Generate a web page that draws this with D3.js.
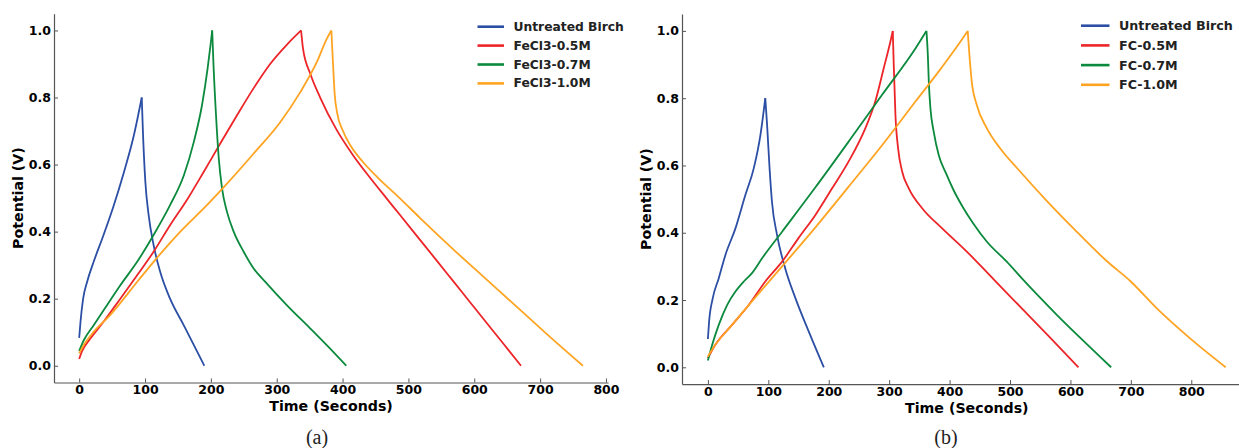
<!DOCTYPE html>
<html>
<head>
<meta charset="utf-8">
<script src="https://cdn.jsdelivr.net/npm/d3@7"></script>
<style>
  body { margin: 0; background: #fff; }
  svg { display: block; }
</style>
</head>
<body>
<svg id="chart" width="1239" height="448"></svg>
<script>
// tick labels
const xTicks = [0, 100, 200, 300, 400, 500, 600, 700, 800]
const yTicks = [0, 0.2, 0.4, 0.6, 0.8, 1.0]

// legend entries
const namesA = ['Untreated Birch', 'FeCl3-0.5M', 'FeCl3-0.7M', 'FeCl3-1.0M']
const namesB = ['Untreated Birch', 'FC-0.5M', 'FC-0.7M', 'FC-1.0M']
const colors = ['#2c4fa5', '#ec2529', '#0b8a3d', '#ffa422']

// panel (a): [time (s), potential (V)]
const birchA = [[0, 0.083], [2, 0.131], [6, 0.2], [12, 0.25], [22, 0.31], [37, 0.39], [52, 0.475], [67.6, 0.575], [82.8, 0.685], [95, 0.8],
  [97, 0.687], [100.5, 0.548], [105.5, 0.449], [113, 0.36], [123, 0.28], [138, 0.2], [158.7, 0.121], [174, 0.062], [190, 0]]
const fecl05 = [[0, 0.02], [4, 0.042], [17, 0.081], [37, 0.131], [62.5, 0.2], [88, 0.27], [113, 0.34], [138, 0.419], [163.8, 0.495], [189, 0.578],
  [214, 0.662], [239.7, 0.747], [265, 0.828], [290, 0.9], [315.6, 0.958], [337, 1.0],
  [340, 0.945], [351, 0.871], [366, 0.8], [390.6, 0.705], [415.9, 0.628], [441.2, 0.562], [466.5, 0.5], [486.7, 0.451], [517, 0.377],
  [542.4, 0.315], [567.7, 0.253], [593, 0.191], [618.3, 0.129], [643.7, 0.067], [671, 0]]
const fecl07 = [[0, 0.044], [7, 0.076], [22, 0.121], [42, 0.18], [62.5, 0.24], [88, 0.31], [113, 0.39], [138, 0.479], [159, 0.568], [174, 0.667],
  [186.5, 0.777], [195, 0.886], [200, 0.965], [202, 1.0],
  [204, 0.896], [207.8, 0.747], [212, 0.618], [217, 0.528], [224.5, 0.459], [234.6, 0.4], [249.8, 0.34], [265, 0.29], [282.7, 0.25],
  [315.6, 0.18], [351, 0.111], [386.5, 0.04], [405.7, 0]]
const fecl10 = [[0, 0.037], [7, 0.062], [22, 0.101], [47, 0.151], [90, 0.255], [113, 0.31], [153.6, 0.4], [194, 0.479], [224.5, 0.543],
  [265, 0.633], [305.6, 0.727], [335.8, 0.816], [361, 0.906], [376, 0.975], [383, 1.0],
  [385.5, 0.9], [388, 0.81], [392, 0.752], [400, 0.703], [412, 0.657], [430, 0.61], [455, 0.558], [486.7, 0.5], [517, 0.442],
  [567.7, 0.348], [608, 0.276], [658.8, 0.186], [709.4, 0.096], [765, 0]]

// panel (b): [time (s), potential (V)]
const birchB = [[0, 0.084], [2, 0.136], [8, 0.205], [18, 0.265], [29, 0.334], [45.6, 0.413], [62, 0.512], [76, 0.592], [87, 0.691], [95, 0.8],
  [98, 0.72], [101.8, 0.6], [106, 0.493], [114.5, 0.393], [128, 0.294], [145, 0.205], [167, 0.106], [191.8, 0]]
const fc05 = [[0, 0.027], [12, 0.066], [40, 0.126], [67.6, 0.185], [95, 0.255], [122.8, 0.314], [150, 0.384], [178, 0.453], [205.6, 0.532],
  [233, 0.612], [260.7, 0.711], [277, 0.79], [291, 0.889], [302, 0.968], [306, 1.0],
  [307.6, 0.899], [310.4, 0.75], [314.8, 0.651], [321.5, 0.582], [332.5, 0.532], [354.6, 0.473], [387.7, 0.413], [428.5, 0.344],
  [472.6, 0.262], [522.3, 0.17], [566.4, 0.088], [613.3, 0]]
const fc07 = [[0, 0.02], [7, 0.066], [18, 0.126], [31.8, 0.185], [45.6, 0.225], [59.4, 0.255], [73, 0.28], [89.7, 0.324], [122.8, 0.403],
  [178, 0.535], [233, 0.671], [288.3, 0.81], [343.5, 0.948], [361.7, 1.0],
  [364, 0.929], [365.6, 0.849], [368.3, 0.77], [373.8, 0.7], [382, 0.631], [394, 0.577], [406.5, 0.527], [423, 0.473], [439.5, 0.427],
  [461.5, 0.374], [494.6, 0.314], [522, 0.26], [549.8, 0.207], [577.4, 0.156], [616, 0.088], [667.3, 0]]
const fc10 = [[0, 0.032], [12, 0.066], [40, 0.126], [67.6, 0.185], [122.8, 0.3], [178, 0.416], [233, 0.537], [288.3, 0.66], [343.5, 0.79],
  [384.3, 0.885], [420.7, 0.975], [430, 1.0],
  [432.8, 0.929], [436.7, 0.849], [445, 0.78], [461.5, 0.711], [483.6, 0.651], [516.7, 0.582], [560.8, 0.495], [605, 0.413],
  [660, 0.316], [699.9, 0.255], [743, 0.175], [798, 0.086], [857, 0]]

const svg = d3.select('#chart')
const font = 'DejaVu Sans, sans-serif'

/**
 * Draws one GCD panel
 *
 * @param {*} p the panel settings
 */
function drawPanel (p) {
  const x = d3.scaleLinear().domain(p.xDomain).range([p.left, p.right])
  const y = d3.scaleLinear().domain([-0.05, 1.05]).range([p.bottom, p.top])
  const g = svg.append('g')

  const xAxis = g.append('g')
    .attr('transform', `translate(0, ${p.bottom})`)
    .call(d3.axisBottom(x).tickValues(xTicks).tickFormat(d3.format('d'))
      .tickSizeInner(-4).tickSizeOuter(0).tickPadding(3))
  const yAxis = g.append('g')
    .attr('transform', `translate(${p.left}, 0)`)
    .call(d3.axisLeft(y).tickValues(yTicks).tickFormat(d3.format('.1f'))
      .tickSizeInner(-4).tickSizeOuter(0).tickPadding(3))

  for (const ax of [xAxis, yAxis]) {
    ax.attr('font-family', font).attr('font-size', 12.5).attr('font-weight', 'bold')
    ax.select('.domain').attr('stroke', '#555').attr('stroke-width', 1.2)
    ax.selectAll('.tick line').attr('stroke', '#555')
    ax.selectAll('.tick text').attr('fill', '#000')
  }

  const line = d3.line()
    .x(d => x(d[0]))
    .y(d => y(d[1]))
    .curve(d3.curveMonotoneX)

  // charge and discharge are drawn apart so the peak stays sharp
  p.series.forEach((s, i) => {
    const k = d3.maxIndex(s, d => d[1])
    for (const part of [s.slice(0, k + 1), s.slice(k)]) {
      g.append('path')
        .datum(part)
        .attr('fill', 'none')
        .attr('stroke', colors[i])
        .attr('stroke-width', 1.8)
        .attr('stroke-linejoin', 'round')
        .attr('d', line)
    }
  })

  // legend, no frame
  const leg = g.append('g')
  p.names.forEach((name, i) => {
    const ly = p.legY + i * p.legStep
    leg.append('line')
      .attr('x1', p.legX).attr('x2', p.legX + p.legLen)
      .attr('y1', ly).attr('y2', ly)
      .attr('stroke', colors[i])
      .attr('stroke-width', 2.6)
    leg.append('text')
      .attr('x', p.legX + p.legLen + 9.5)
      .attr('y', ly)
      .attr('dominant-baseline', 'central')
      .attr('font-family', font)
      .attr('font-weight', 'bold')
      .attr('font-size', p.legFont)
      .attr('fill', '#222')
      .text(name)
  })

  g.append('text')
    .attr('x', (p.left + p.right) / 2)
    .attr('y', p.xLabelY)
    .attr('text-anchor', 'middle')
    .attr('font-family', font)
    .attr('font-weight', 'bold')
    .attr('font-size', 14.2)
    .text('Time (Seconds)')

  g.append('text')
    .attr('transform', `translate(${p.yLabelX}, ${(p.top + p.bottom) / 2}) rotate(-90)`)
    .attr('text-anchor', 'middle')
    .attr('font-family', font)
    .attr('font-weight', 'bold')
    .attr('font-size', 14.2)
    .text('Potential (V)')

  g.append('text')
    .attr('x', p.captionX)
    .attr('y', 444)
    .attr('text-anchor', 'middle')
    .attr('font-family', 'Liberation Serif, serif')
    .attr('font-size', 20)
    .attr('fill', '#222')
    .text(p.caption)
}

drawPanel({
  series: [birchA, fecl05, fecl07, fecl10],
  names: namesA,
  xDomain: [-38.25, 803.25],
  left: 54,
  right: 608.1,
  top: 13.7,
  bottom: 382.5,
  legX: 477.5,
  legLen: 26.5,
  legY: 26.7,
  legStep: 18.9,
  legFont: 12.3,
  xLabelY: 411,
  yLabelX: 23,
  captionX: 317,
  caption: '(a)'
})

drawPanel({
  series: [birchB, fc05, fc07, fc10],
  names: namesB,
  xDomain: [-42.85, 899.85],
  left: 682,
  right: 1251.6,
  top: 14.1,
  bottom: 384.1,
  legX: 1081,
  legLen: 28.5,
  legY: 25.7,
  legStep: 19.7,
  legFont: 12.7,
  xLabelY: 412.5,
  yLabelX: 651,
  captionX: 946,
  caption: '(b)'
})
</script>
</body>
</html>
